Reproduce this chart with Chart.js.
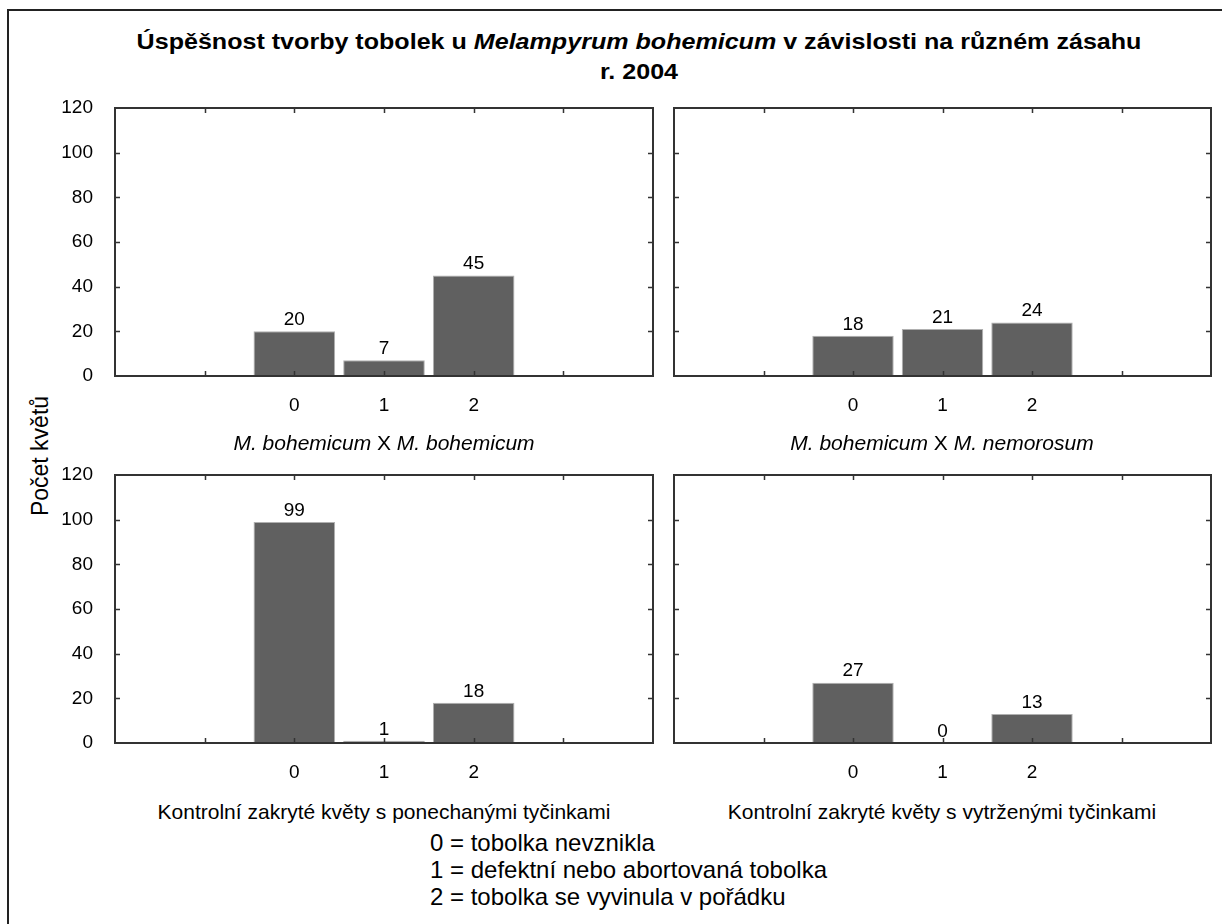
<!DOCTYPE html>
<html>
<head>
<meta charset="utf-8">
<script src="https://cdn.jsdelivr.net/npm/chart.js@4"></script>
<style>
  html, body { margin: 0; padding: 0; background: #fff; }
  body { width: 1222px; height: 924px; position: relative; overflow: hidden;
         font-family: "Liberation Sans", Arial, sans-serif; color: #000; }
  .frame { position: absolute; left: 7px; top: 9px; width: 1240px; height: 940px;
           border-left: 2px solid #222; border-top: 2px solid #222; }
  .t { position: absolute; white-space: nowrap; transform: translate(-50%, -50%); }
  .title { font-weight: bold; font-size: 22px; transform: translate(-50%, -50%) scaleX(1.14); }
  .sub { font-size: 21px; }
  .ytitle { font-size: 23px; transform: translate(-50%, -50%) rotate(-90deg); }
  .legend { position: absolute; left: 430px; top: 829px; font-size: 24px; line-height: 27px; white-space: nowrap; }
  canvas { position: absolute; }
</style>
</head>
<body>
<div class="frame"></div>

<div class="t title" style="left:639px; top:42px;">Úspěšnost tvorby tobolek u <i>Melampyrum bohemicum</i> v závislosti na různém zásahu</div>
<div class="t title" style="left:639px; top:72px;">r. 2004</div>
<div class="t ytitle" style="left:40px; top:456px;">Počet květů</div>

<canvas id="c1" width="623" height="338" style="left:45px; top:83px;"></canvas>
<canvas id="c2" width="622" height="338" style="left:604px; top:83px;"></canvas>
<canvas id="c3" width="623" height="338" style="left:45px; top:450px;"></canvas>
<canvas id="c4" width="622" height="338" style="left:604px; top:450px;"></canvas>

<div class="t sub" style="left:384px; top:443px;"><i>M. bohemicum</i> X <i>M. bohemicum</i></div>
<div class="t sub" style="left:942px; top:443px;"><i>M. bohemicum</i> X <i>M. nemorosum</i></div>
<div class="t sub" style="left:384px; top:812px;">Kontrolní zakryté květy s ponechanými tyčinkami</div>
<div class="t sub" style="left:942px; top:812px;">Kontrolní zakryté květy s vytrženými tyčinkami</div>

<div class="legend">
  <div>0 = tobolka nevznikla</div>
  <div>1 = defektní nebo abortovaná tobolka</div>
  <div>2 = tobolka se vyvinula v pořádku</div>
</div>

<script>
// kategorie (stav tobolky) a počty květů v jednotlivých pokusech
const categories = [0, 1, 2];
const bohXboh = [20, 7, 45];       // M. bohemicum X M. bohemicum
const bohXnem = [18, 21, 24];      // M. bohemicum X M. nemorosum
const ctrlKept = [99, 1, 18];      // kontrolní, ponechané tyčinky
const ctrlRemoved = [27, 0, 13];   // kontrolní, vytržené tyčinky
const yTicks = [0, 20, 40, 60, 80, 100, 120];

Chart.defaults.font.family = '"Liberation Sans", Arial, sans-serif';
Chart.defaults.color = '#000';

// rámeček grafu + tiky dovnitř na všech stranách + hodnoty nad sloupci
const panelPlugin = {
  id: 'panel',
  afterDatasetsDraw(chart) {
    const ctx = chart.ctx;
    const a = chart.chartArea;
    const xs = chart.scales.x, ys = chart.scales.y;
    ctx.save();
    ctx.strokeStyle = '#333';
    ctx.lineWidth = 1.5;
    ctx.beginPath();
    [-1, 0, 1, 2, 3].forEach(v => {
      const px = Math.round(xs.getPixelForValue(v)) + 0.5;
      ctx.moveTo(px, a.bottom); ctx.lineTo(px, a.bottom - 5);
      ctx.moveTo(px, a.top); ctx.lineTo(px, a.top + 5);
    });
    yTicks.slice(1, -1).forEach(v => {
      const py = Math.round(ys.getPixelForValue(v)) + 0.5;
      ctx.moveTo(a.left, py); ctx.lineTo(a.left + 5, py);
      ctx.moveTo(a.right, py); ctx.lineTo(a.right - 5, py);
    });
    ctx.stroke();
    ctx.lineWidth = 2;
    ctx.strokeRect(a.left, a.top, a.right - a.left, a.bottom - a.top);

    ctx.fillStyle = '#000';
    ctx.font = '19px "Liberation Sans", Arial, sans-serif';
    ctx.textAlign = 'center';
    ctx.textBaseline = 'bottom';
    const meta = chart.getDatasetMeta(0);
    meta.data.forEach((bar, i) => {
      ctx.fillText(chart.data.datasets[0].data[i].y, bar.x, bar.y - 2);
    });
    ctx.restore();
  }
};

function makePanel(id, values, showY) {
  new Chart(document.getElementById(id), {
    type: 'bar',
    data: {
      datasets: [{
        data: categories.map((c, i) => ({ x: c, y: values[i] })),
        backgroundColor: '#606060',
        borderColor: '#b0b0b0',
        borderWidth: 1,
        barPercentage: 0.91,
        categoryPercentage: 1.0
      }]
    },
    options: {
      responsive: false,
      devicePixelRatio: 1,
      animation: false,
      // 25 px nahoře = půl výšky popisku + padding tiků, stejné pro všechny panely
      layout: { padding: { left: 0, top: 25, right: 15, bottom: 0 } },
      plugins: { legend: { display: false }, tooltip: { enabled: false } },
      scales: {
        x: {
          type: 'linear',
          min: -2, max: 4,
          offset: false,
          grid: { display: false },
          border: { display: false },
          ticks: {
            stepSize: 1,
            autoSkip: false,
            maxRotation: 0,
            padding: 10,
            font: { size: 19 },
            callback: v => categories.includes(v) ? String(v) : ''
          },
          afterFit: s => { s.height = 45; }
        },
        y: {
          min: 0, max: 120,
          grid: { display: false },
          border: { display: false },
          ticks: {
            stepSize: 20,
            padding: 14,
            color: showY ? '#000' : 'rgba(0,0,0,0)',
            font: { size: 19, lineHeight: '22px' }
          },
          afterFit: s => { s.width = 70; }
        }
      }
    },
    plugins: [panelPlugin]
  });
}

makePanel('c1', bohXboh, true);
makePanel('c2', bohXnem, false);
makePanel('c3', ctrlKept, true);
makePanel('c4', ctrlRemoved, false);
</script>
</body>
</html>
